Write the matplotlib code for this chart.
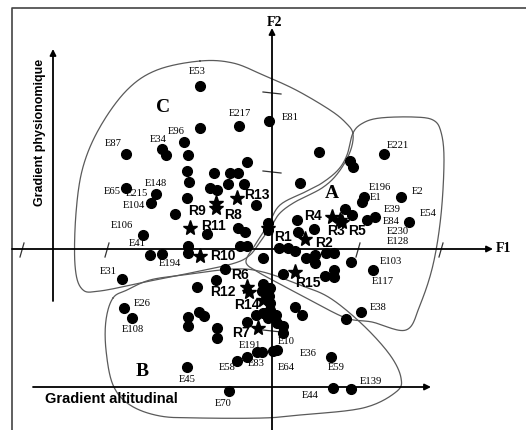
import numpy as np
import matplotlib
matplotlib.use("Agg")
import matplotlib.pyplot as plt

# ---------------- data (in picture coordinates) ----------------
dot_x = [200, 200, 239, 269, 126, 162, 166, 184, 188, 247, 187, 214, 230, 238, 189, 228, 244,
         210, 217, 187, 126, 156, 151, 256, 175, 143, 207, 238, 245, 188, 188, 240, 247, 150,
         162, 263, 122,
         319, 384, 350, 353, 300, 364, 362, 401, 345, 352, 367, 375, 409, 268, 268, 297, 298,
         314, 279, 288, 295, 306, 315, 315, 326, 334, 351, 373, 283, 325, 334, 334,
         225, 216, 197, 263, 262, 270, 269, 270, 270, 295, 302, 124, 132, 199, 204, 188, 188,
         217, 217, 256, 247, 266, 276, 277, 283, 283, 257, 262, 247, 237, 273, 277, 187, 229,
         331, 333, 351, 361, 346, 263, 268]
dot_y = [86, 128, 126, 121, 154, 149, 155, 142, 155, 162, 171, 173, 173, 173, 182, 184, 184,
         188, 190, 198, 188, 194, 203, 205, 214, 235, 234, 228, 232, 246, 253, 246, 246, 255,
         254, 258, 279,
         152, 154, 161, 167, 183, 197, 202, 197, 209, 215, 220, 217, 222, 223, 230, 220, 232,
         229, 248, 248, 251, 258, 255, 263, 253, 253, 262, 270, 274, 276, 270, 277,
         269, 280, 287, 284, 291, 288, 296, 303, 310, 307, 315, 308, 318, 312, 316, 317, 326,
         328, 338, 315, 322, 313, 315, 323, 326, 333, 352, 352, 357, 361, 351, 350, 367, 391,
         357, 388, 389, 312, 319, 313, 318]

e_labels = ["E53", "E217", "E81", "E87", "E34", "E96", "E65", "E148", "E215", "E104", "E106",
            "E41", "E194", "E31", "E26", "E108", "E191", "E58", "E83", "E45", "E70", "E10",
            "E64", "E36", "E59", "E44", "E139", "E38", "E103", "E117", "E221", "E196", "E1",
            "E2", "E39", "E54", "E84", "E230", "E128"]
e_lab_x = [197, 240, 290, 113, 158, 176, 112, 156, 137, 134, 122, 137, 170, 108, 142, 133, 250,
           227, 256, 187, 223, 286, 286, 308, 336, 310, 371, 378, 391, 383, 398, 380, 376,
           418, 392, 428, 391, 398, 398]
e_lab_y = [72, 113, 118, 143, 140, 131, 192, 183, 194, 206, 226, 243, 264, 272, 303, 330, 345,
           367, 363, 379, 404, 341, 367, 353, 367, 395, 381, 308, 262, 282, 145, 187, 198,
           191, 209, 214, 221, 232, 242]

r_labels = ["R1", "R2", "R3", "R4", "R5", "R6", "R7", "R8", "R9", "R10", "R11", "R12", "R13",
            "R14", "R15"]
r_star_x = [268, 305, 340, 332, 342, 247, 258, 216, 216, 200, 190, 249, 237, 263, 295]
r_star_y = [228, 239, 220, 217, 222, 287, 328, 208, 203, 256, 228, 292, 198, 300, 272]
r_lab_x = [283, 324, 336, 313, 357, 240, 241, 233, 197, 223, 213, 223, 257, 247, 308]
r_lab_y = [237, 243, 231, 216, 231, 275, 333, 215, 211, 256, 226, 292, 195, 305, 283]

groups = ["A", "B", "C"]
group_x = [332, 142, 163]
group_y = [193, 371, 108]

# hand-drawn group envelopes
env_A_x = [353, 363, 380, 413, 433, 441, 444, 441, 433, 420, 406, 372, 346, 310, 280, 258, 246,
           255, 268, 280, 305, 322, 338, 347]
env_A_y = [133, 123, 118, 117, 120, 132, 160, 215, 265, 305, 330, 322, 318, 300, 284, 272, 262,
           245, 225, 205, 192, 183, 170, 155]
env_B_x = [113, 127, 150, 183, 233, 263, 300, 330, 363, 390, 401, 396, 363, 300, 263, 200, 160,
           130, 113, 106, 106]
env_B_y = [298, 290, 280, 275, 269, 272, 285, 298, 325, 355, 378, 392, 408, 415, 418, 418, 416,
           405, 385, 350, 320]
env_C_x = [200, 233, 263, 296, 330, 346, 353, 350, 338, 322, 295, 280, 272, 260, 250, 235, 200,
           150, 100, 82, 75, 76, 83, 100, 127, 157]
env_C_y = [61, 63, 75, 90, 110, 123, 134, 152, 173, 188, 202, 213, 225, 242, 255, 263, 271,
           281, 291, 289, 265, 213, 167, 127, 90, 70]

f1_ticks = [22, 107, 358, 441]
f2_ticks = [93, 172, 331]


def closed_spline(xs, ys, n=16):
    P = np.column_stack([xs, ys]).astype(float)
    N = len(P)
    out = []
    t = np.linspace(0, 1, n, endpoint=False)[:, None]
    for i in range(N):
        p0, p1, p2, p3 = P[(i - 1) % N], P[i], P[(i + 1) % N], P[(i + 2) % N]
        pts = 0.5 * ((2 * p1) + (-p0 + p2) * t + (2 * p0 - 5 * p1 + 4 * p2 - p3) * t ** 2
                     + (-p0 + 3 * p1 - 3 * p2 + p3) * t ** 3)
        out.append(pts)
    out.append(P[:1])
    return np.vstack(out)


fig = plt.figure(figsize=(5.26, 4.30), dpi=100)
ax = fig.add_axes([0, 0, 1, 1])
ax.set_xlim(0, 526)
ax.set_ylim(430, 0)
ax.axis("off")

# frame
ax.plot([12, 12, 526], [430, 8, 8], color="#444444", lw=1.2)

# envelopes
for ex, ey in [(env_A_x, env_A_y), (env_B_x, env_B_y), (env_C_x, env_C_y)]:
    s = closed_spline(ex, ey)
    ax.plot(s[:, 0], s[:, 1], color="#5a5a5a", lw=0.9)

arrow_kw = dict(arrowstyle="-|>", color="black", lw=1.3, mutation_scale=9,
                shrinkA=0, shrinkB=0)
# F1 and F2 axes
ax.annotate("", xy=(493, 249), xytext=(12, 249), arrowprops=arrow_kw)
ax.annotate("", xy=(272, 28), xytext=(272, 430), arrowprops=arrow_kw)
ax.text(496, 249, "F1", fontsize=10, fontweight="bold", family="Liberation Serif",
        va="center", ha="left")
ax.text(275, 22, "F2", fontsize=10, fontweight="bold", family="Liberation Serif",
        va="center", ha="center")
for tx in f1_ticks:
    ax.plot([tx + 2, tx - 2], [243, 257], color="#333333", lw=0.9)
for ty in f2_ticks:
    ax.plot([263, 281], [ty - 1, ty + 1], color="#333333", lw=0.9)

# gradient arrows
ax.annotate("", xy=(53, 49), xytext=(53, 301), arrowprops=arrow_kw)
ax.annotate("", xy=(431, 387), xytext=(33, 387), arrowprops=arrow_kw)
ax.text(40, 132, "Gradient physionomique", rotation=90, fontsize=9, fontweight="bold",
        family="Liberation Sans", ha="center", va="center")
ax.text(45, 399, "Gradient altitudinal", fontsize=10.5, fontweight="bold",
        family="Liberation Sans", ha="left", va="center")

# points
ax.plot(dot_x, dot_y, "o", color="black", markersize=7, zorder=3)
ax.plot(r_star_x, r_star_y, "*", color="black", markersize=11, zorder=4)

for lab, x, y in zip(e_labels, e_lab_x, e_lab_y):
    ax.text(x, y, lab, fontsize=7.6, family="Liberation Serif", ha="center", va="center",
            color="black", zorder=5)
for lab, x, y in zip(r_labels, r_lab_x, r_lab_y):
    ax.text(x, y, lab, fontsize=10, fontweight="bold", family="Liberation Sans",
            ha="center", va="center", zorder=5)
for lab, x, y in zip(groups, group_x, group_y):
    ax.text(x, y, lab, fontsize=14, fontweight="bold", family="Liberation Serif",
            ha="center", va="center", zorder=5)

fig.savefig("out.png", dpi=100)
